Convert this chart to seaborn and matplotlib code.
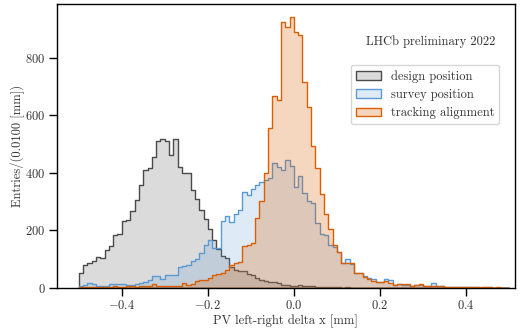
import numpy as np
import pandas as pd
import matplotlib
matplotlib.use("Agg")
import matplotlib.pyplot as plt
import seaborn as sns

# bin edges: 100 bins of 0.01 mm between -0.5 and 0.5
edges = np.linspace(-0.5, 0.5, 101)
centers = 0.5 * (edges[:-1] + edges[1:])

# entries per bin
design = [51, 80, 86, 92, 109, 103, 132, 146, 184, 188, 234, 237, 269, 306, 358, 410, 416, 457, 512, 517, 512, 463,
          517, 420, 400, 398, 340, 308, 272, 238, 205, 165, 137, 111, 104, 74, 63, 57, 60, 50, 44, 35, 28, 25,
          22, 20, 16, 11, 10, 7, 7, 9, 8, 5, 5, 4, 3, 3, 2, 3, 2,
          1, 2, 1, 1, 0, 1, 0, 1, 0, 0, 1, 0, 0, 0, 0, 0, 0, 0, 0, 0,
          0, 0, 0, 0, 0, 0, 0, 0, 0, 0, 0, 0, 0, 0, 0, 0, 0, 0, 0]
survey = [8, 10, 16, 14, 7, 8, 6, 12, 13, 12, 13, 10, 10, 12, 18, 22, 28, 42, 40, 32, 44, 46,
          44, 74, 76, 80, 92, 100, 121, 150, 167, 140, 138, 231, 250, 230, 257, 271, 335, 323, 345, 358, 370, 376,
          381, 434, 422, 410, 445, 424, 352, 390, 329, 304, 295, 225, 188, 184, 150, 142, 126, 88, 100, 83, 51, 51, 42, 36,
          30, 21, 22, 30, 28, 9, 12, 10, 9, 8, 9, 10, 7, 5, 16, 5, 5, 4,
          3, 2, 4, 3, 2, 3, 2, 1, 3, 2, 1, 1, 1, 0]
tracking = [2, 3, 3, 4, 2, 3, 4, 3, 5, 4, 3, 5, 6, 4, 5, 7, 8, 12, 6, 7, 8, 7,
            7, 6, 18, 10, 12, 25, 28, 28, 34, 45, 49, 53, 63, 80, 86, 90, 144, 150, 155, 242, 302, 399,
            555, 668, 654, 926, 909, 944, 892, 880, 718, 631, 494, 416, 327, 257, 204, 150, 126, 86, 86, 86, 51, 51,
            37, 30, 25, 21, 22, 25, 16, 9, 14, 14, 12, 7, 9, 13, 7, 5, 5, 5, 5, 4,
            4, 3, 4, 3, 2, 3, 2, 3, 2, 2, 1, 2, 1, 0]

labels = ["design position", "survey position", "tracking alignment"]
face_colors = ["#7a7a7a", "#5b9bd5", "#d95f02"]
edge_colors = ["#4a4a4a", "#5b9bd5", "#d95f02"]
alphas = [0.27, 0.2, 0.25]

sns.set_style("ticks")
plt.rcParams["font.family"] = "serif"
plt.rcParams["font.serif"] = ["cmr10", "DejaVu Serif"]
plt.rcParams["mathtext.fontset"] = "cm"
plt.rcParams["axes.formatter.use_mathtext"] = True
plt.rcParams["axes.unicode_minus"] = True

fig = plt.figure(figsize=(5.26, 3.29), dpi=100)
ax = fig.add_axes([0.108, 0.125, 0.871, 0.863])

for counts, lab, fc, ec, a in zip([design, survey, tracking], labels, face_colors, edge_colors, alphas):
    df = pd.DataFrame({"dx": centers, "n": counts})
    sns.histplot(data=df, x="dx", weights="n", bins=edges.tolist(), element="step", fill=True,
                 color=fc, alpha=a, edgecolor=ec, linewidth=1.0, label=lab, ax=ax)

ax.set_xlim(-0.551, 0.514)
ax.set_ylim(0, 988)
ax.set_xticks([-0.4, -0.2, 0.0, 0.2, 0.4])
ax.set_yticks([0, 200, 400, 600, 800])
ax.set_xlabel("PV left-right delta x [mm]", fontsize=9, color="#333333", labelpad=2)
ax.set_ylabel("Entries/(0.0100 [mm])", fontsize=9, color="#333333", labelpad=0)
ax.tick_params(axis="both", labelsize=9, length=6, width=1, colors="black", labelcolor="#333333", pad=2)
for s in ax.spines.values():
    s.set_color("black")
    s.set_linewidth(1.0)

ax.text(0.817, 0.866, "LHCb preliminary 2022", transform=ax.transAxes,
        ha="center", va="center", fontsize=9, color="#333333")
leg = ax.legend(loc="upper right", bbox_to_anchor=(0.966, 0.785), borderaxespad=0,
                fontsize=9, frameon=True, fancybox=True, handlelength=2.0, labelspacing=0.5)
leg.get_frame().set_edgecolor("#cccccc")
for t in leg.get_texts():
    t.set_color("#333333")

fig.savefig("out.png", dpi=100)
